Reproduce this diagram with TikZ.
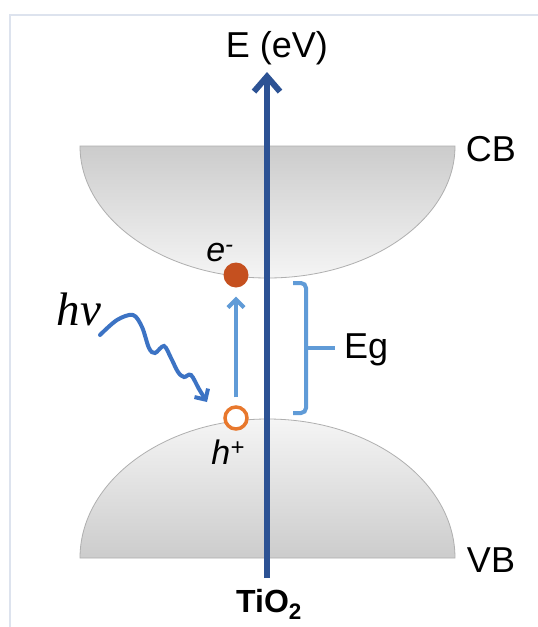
\documentclass[tikz,border=0pt]{standalone}
\usepackage{fontspec}
\setmainfont{Liberation Sans}
\newfontfamily\serifit{Liberation Serif}
\usetikzlibrary{arrows.meta}
\definecolor{axisblue}{RGB}{44,82,148}
\definecolor{lightblue}{RGB}{96,155,215}
\definecolor{waveblue}{RGB}{60,115,196}
\definecolor{elec}{RGB}{197,80,31}
\definecolor{hole}{RGB}{232,120,45}
\definecolor{framec}{RGB}{221,227,238}
\definecolor{bandedge}{RGB}{175,175,175}
\tikzset{
  lbl/.style={font=\fontsize{36}{40}\selectfont, inner sep=0pt},
  band/.style={draw=bandedge, line width=0.8pt},
  carrierlbl/.style={font=\fontsize{34}{38}\selectfont\itshape, inner sep=0pt},
}
\begin{document}
\begin{tikzpicture}[x=1pt,y=-1pt]
\useasboundingbox (0,0) rectangle (538,627);
\fill[white] (0,0) rectangle (538,627);
% frame
\draw[framec, line width=2.5pt] (538,15) -- (10,15) -- (10,627);
% conduction band
\shade[band, top color=black!20, bottom color=black!4]
  (80,146) -- (455,146) arc[start angle=0, end angle=180, x radius=187.5, y radius=132] -- cycle;
% valence band
\shade[band, top color=black!4, bottom color=black!20]
  (80,558) -- (455,558) arc[start angle=0, end angle=-180, x radius=187.5, y radius=139] -- cycle;
% labels
\node[lbl] (cb) at (491,149) {CB};
\node[lbl] (vb) at (491,560) {VB};
\node[lbl] (e) at (277,48) {E (eV)};
\node[lbl, font=\fontsize{32}{36}\selectfont\bfseries] (tio) at (269,604) {TiO$_{\mathbf{2}}$};
% axis
\coordinate (axbot) at (267,578);
\coordinate (axtop) at (267,72);
\draw[axisblue, line width=6pt, -{Straight Barb[length=15pt, width=26pt, line width=6pt]}] (axbot) -- (axtop);
% carriers
\node[circle, fill=elec, minimum size=25pt, inner sep=0pt] (el) at (236,275) {};
\node[circle, draw=hole, fill=white, line width=3.5pt, minimum size=22pt, inner sep=0pt] (ho) at (236,418) {};
\node[carrierlbl] (elbl) at (220,253) {e\textsuperscript{-}};
\node[carrierlbl] (hlbl) at (228,452) {h\textsuperscript{+}};
\draw[lightblue, line width=4pt, shorten <=8pt, shorten >=9pt, -{Straight Barb[length=8pt, width=16pt, line width=4pt]}] (ho.north) -- (el.south);
% band gap bracket
\coordinate (bt) at (293,283);
\coordinate (bb) at (293,413);
\coordinate (bm) at (306,348);
\draw[lightblue, line width=4pt, rounded corners=5pt] (bt) -- (306,283) -- (306,413) -- (bb);
\draw[lightblue, line width=4pt] (bm) -- (335,348);
\node[lbl, font=\fontsize{36}{40}\selectfont, anchor=west] (eg) at (344,350) {Eg};
% photon
\node[inner sep=0pt, font=\fontsize{47}{50}\selectfont\serifit\itshape] (hv) at (79,309) {hv};
\coordinate (ws) at (100,335);
\coordinate (we) at (207,402);
\draw[waveblue, line width=4pt, line cap=round, -{Straight Barb[length=8pt, width=16pt, line width=4pt]}]
  plot[smooth, tension=0.55] coordinates {(ws) (117,320) (133,315) (142,327) (149,348) (155,353) (164,346) (171,358) (178,372) (184,377) (191,375) (199,389) (we)};
\end{tikzpicture}
\end{document}
